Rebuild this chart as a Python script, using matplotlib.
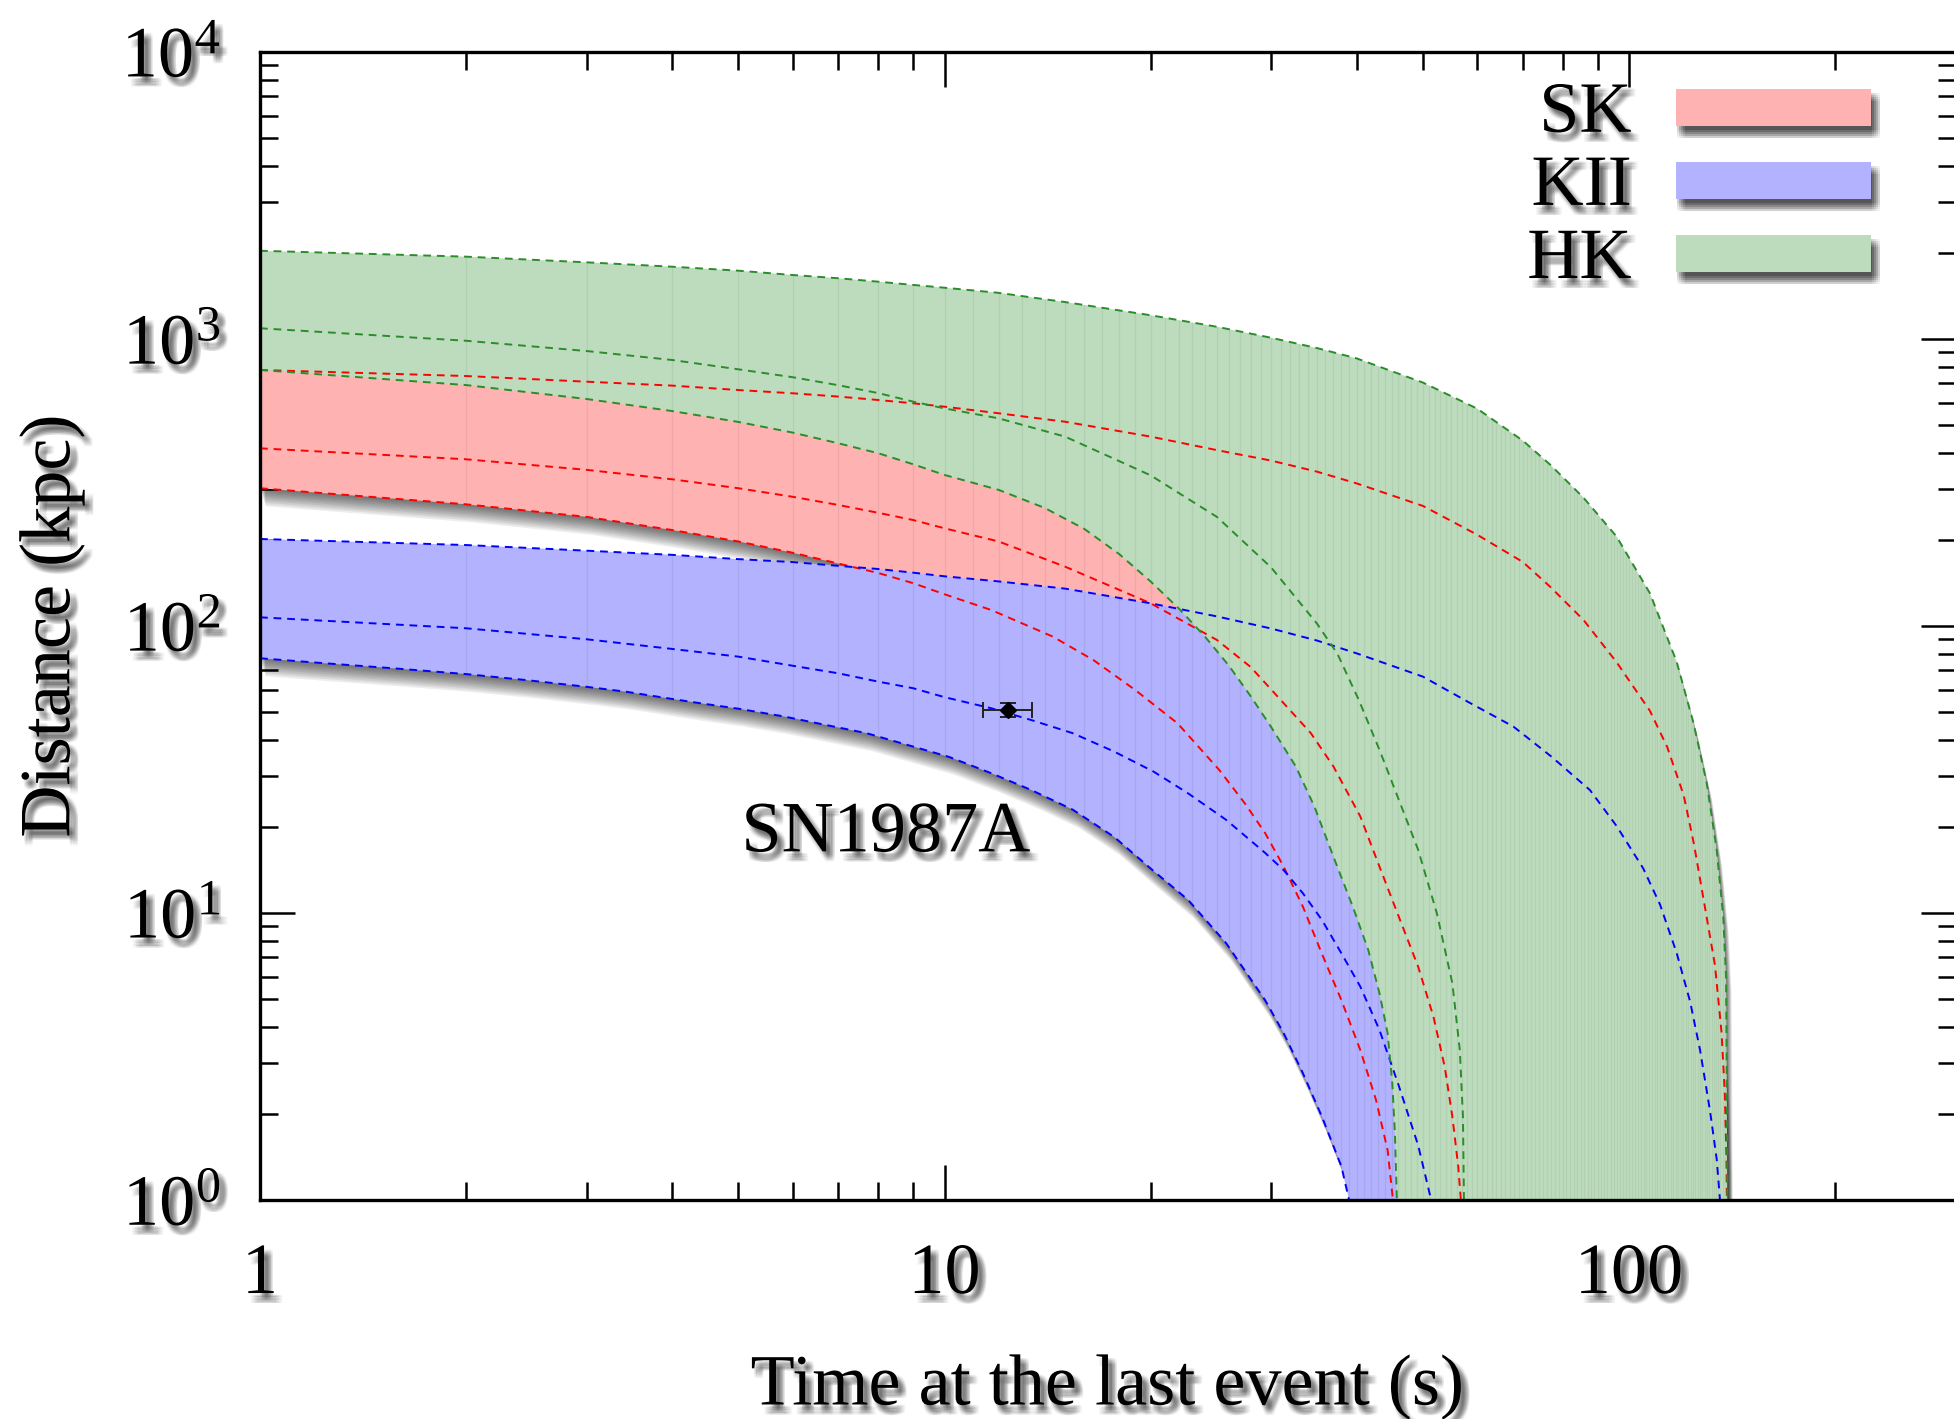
import numpy as np
import matplotlib
matplotlib.use("Agg")
import matplotlib.pyplot as plt
import matplotlib.patheffects as pe
from matplotlib.patches import Rectangle
from matplotlib.ticker import LogLocator, NullFormatter
from matplotlib.transforms import ScaledTranslation

plt.rcParams["font.family"] = ["Liberation Serif", "DejaVu Serif"]
plt.rcParams["mathtext.fontset"] = "custom"
plt.rcParams["mathtext.rm"] = "Liberation Serif"
plt.rcParams["mathtext.it"] = "Liberation Serif:italic"

# time at the last event (s) / distance (kpc)
hk_up_t = [1, 2, 3, 4, 5, 6, 7, 8, 9, 10, 12, 15, 20, 25, 30, 35, 40, 50, 60, 70,
           76.7, 85.8, 95.9, 107.3, 117.4, 124.2, 129.9, 134.3, 137.3, 138.6, 138.9, 139.2]
hk_up_d = [2030, 1936, 1850, 1786, 1730, 1671, 1628, 1584, 1543, 1509, 1448, 1345, 1210, 1103,
           1010, 930, 856, 705, 572, 442, 365, 280, 205, 130, 75, 46, 28.3, 16.6, 9.7, 6.0, 2.9, 1.0]
hk_mid_t = [1, 2, 3, 4, 5, 6, 7, 8, 9, 10, 12, 15, 20, 25, 30, 35, 37.5, 40.3, 43.2, 46.1,
            49.2, 52.4, 55.2, 56.6, 57.2, 57.4]
hk_mid_d = [1090, 986, 908, 845, 784, 736, 690, 648, 605, 573, 529, 457, 335, 240, 160, 102, 80,
            55.2, 37, 24.8, 16.6, 9.97, 5.69, 3.33, 1.95, 1.0]
hk_low_t = [1, 2, 3, 4, 5, 6, 7, 8, 9, 10, 12, 14, 16, 18, 20, 22, 24, 26, 28, 30, 32.6, 34.7,
            37, 39.5, 41.6, 43.2, 44.4, 45.1, 45.5, 45.8]
hk_low_d = [780, 691, 618, 561, 514, 472, 433, 400, 366, 336, 298, 258, 218, 178, 143, 115, 92,
            73, 57, 44.5, 32.4, 23.5, 15.7, 10.5, 7.43, 5.25, 3.81, 2.55, 1.71, 1.0]

sk_up_t = [1, 2, 3, 4, 5, 6, 7, 8, 9, 10, 12, 15, 20, 25, 30, 35, 40, 50, 60, 70, 76.7, 85.8,
           95.9, 107.3, 113.7, 120.2, 124.4, 128.9, 133.5, 136.5, 138.0, 138.8, 139.0]
sk_up_d = [780, 743, 710, 688, 664, 647, 630, 613, 597, 581, 551, 515, 457, 410, 377, 345, 314,
           262, 208, 167, 137, 105, 74.8, 50.6, 37.9, 25.7, 17.4, 10.7, 6.6, 3.85, 2.37, 1.39, 1.0]
sk_mid_t = [1, 2, 3, 4, 5, 6, 7, 8, 9, 10, 12, 15, 20, 25, 28, 31.3, 34.3, 37, 40.5, 43.2, 46.1,
            49.2, 51.8, 53.8, 55.2, 56.3, 56.8]
sk_mid_d = [416, 381, 350, 324.5, 302, 282, 264, 248, 234, 219, 197, 161, 120, 89.4, 72, 53.8,
            42.3, 32.4, 21.7, 14.5, 9.7, 6.5, 4.35, 2.91, 1.95, 1.31, 1.0]
sk_low_t = [1, 2, 3, 4, 5, 6, 7, 8, 9, 10, 11.7, 14.4, 16.5, 19, 21.9, 25.2, 27.5, 29.4, 31.3,
            33.4, 35.6, 38, 40.5, 42.7, 44.4, 45.2]
sk_low_d = [302, 265.5, 240, 216, 197, 180, 165, 153, 141, 129, 113.7, 91.8, 76.1, 59.8, 45.8,
            31.5, 24, 19.0, 14.5, 10.5, 7.2, 4.97, 3.33, 2.23, 1.49, 1.0]

kii_up_t = [1, 2, 3, 4, 5, 6, 7, 8, 9, 10, 12, 15, 20, 25, 30, 35, 40, 50, 58.1, 67.8, 77.1,
            87.7, 95.9, 104.9, 111, 117.4, 122.8, 127, 131.3, 134.3, 135.8]
kii_up_d = [201, 191.5, 183, 177, 171, 167, 162, 158, 153.4, 149, 143, 135, 120, 108, 98, 89,
            80.3, 66.6, 54.5, 44.6, 35, 26.8, 20.1, 14.3, 10.7, 7.25, 4.92, 3.33, 2.05, 1.39, 1.0]
kii_mid_t = [1, 2, 3, 4, 5, 6, 7, 8, 9, 10, 11.7, 13.4, 15.4, 17.7, 20.2, 22.7, 25.8, 29.4,
             31.3, 33.4, 35.6, 38, 40.5, 43.2, 46.1, 49.2, 51.4]
kii_mid_d = [107.2, 98.2, 89.9, 83.2, 78.2, 72.7, 68.4, 64, 60.7, 56.5, 51.7, 47, 42.3, 36.5,
             31.1, 26.1, 21.1, 16.2, 14.1, 11.7, 9.45, 7.24, 5.54, 3.91, 2.5, 1.55, 1.0]
kii_low_t = [1, 1.25, 1.57, 2, 2.45, 3, 3.43, 4, 4.4, 5, 5.8, 7.7, 10.15, 11.7, 13.4, 15.4, 17.7,
             20, 22.7, 25.8, 29.4, 31.3, 33.4, 35.6, 38, 39]
kii_low_d = [77.2, 74.1, 71.2, 68.0, 64.8, 61.4, 59.0, 55.7, 53.8, 51.5, 48.5, 42.3, 35.0, 30.7,
             26.8, 22.9, 18.4, 14.3, 11.1, 7.84, 4.97, 3.81, 2.76, 1.95, 1.31, 1.0]

# SN1987A (Kamiokande-II)
sn_t, sn_terr = 12.4, 1.0
sn_d, sn_derr = 51.0, 3.0

detectors = ["SK", "KII", "HK"]
fill_colors = ["#FFB2B2", "#B2B2FF", "#BDDCBD"]
line_colors = ["#FF0000", "#0000FF", "#2A8C2A"]
bands = [
    ((sk_up_t, sk_up_d), (sk_mid_t, sk_mid_d), (sk_low_t, sk_low_d)),
    ((kii_up_t, kii_up_d), (kii_mid_t, kii_mid_d), (kii_low_t, kii_low_d)),
    ((hk_up_t, hk_up_d), (hk_mid_t, hk_mid_d), (hk_low_t, hk_low_d)),
]


def soft_shadow(dx=4.0, dy=-5.0, spread=1.1, alpha=0.03, n=5):
    # cheap blurred drop shadow: a grid of faint offset copies
    effects = []
    for i in range(n):
        for j in range(n):
            ox = dx + (i - (n - 1) / 2) * spread
            oy = dy + (j - (n - 1) / 2) * spread
            effects.append(pe.SimplePatchShadow(offset=(ox, oy), shadow_rgbFace="black", alpha=alpha))
    effects.append(pe.Normal())
    return effects


fig = plt.figure(figsize=(19.54, 14.19), dpi=100)
ax = fig.add_axes([260 / 1954, 219 / 1419, 1695.6 / 1954, 1148 / 1419])
ax.set_xscale("log")
ax.set_yscale("log")
ax.set_xlim(1, 300)
ax.set_ylim(1, 1e4)
ax.set_axisbelow(True)

polys = []
for (up, mid, low) in bands:
    px = np.concatenate([up[0], low[0][::-1]])
    py = np.concatenate([up[1], low[1][::-1]])
    polys.append((px, py))

# shadows cast by the bands onto the white background
for px, py in polys:
    for k in range(1, 11):
        off = ScaledTranslation(0.4 * k / 72, -1.3 * k / 72, fig.dpi_scale_trans)
        ax.fill(px, py, color="black", alpha=0.07, lw=0, transform=ax.transData + off, zorder=1.0)

seconds = np.arange(2, 140)
for i, ((px, py), fc) in enumerate(zip(polys, fill_colors)):
    poly = ax.fill(px, py, color=fc, lw=0, zorder=1.1 + 0.1 * i)[0]
    stripes = ax.vlines(seconds, 0.5, 2e4, color="black", alpha=0.06, lw=0.9, zorder=1.15 + 0.1 * i)
    stripes.set_clip_path(poly)

for (up, mid, low), lc in zip(bands, line_colors):
    for t, d in (up, mid, low):
        ax.plot(t, d, color=lc, lw=1.4, linestyle=(0, (4, 3)), zorder=3)

ax.errorbar(sn_t, sn_d, xerr=sn_terr, yerr=sn_derr, fmt="D", color="black", ms=8.5,
            ecolor="#222222", elinewidth=1.4, capsize=6, capthick=1.4, zorder=6)
ax.text(5.05, 16.4, "SN1987A", fontsize=52, ha="left", va="baseline", zorder=7,
        path_effects=soft_shadow())

# ticks
ax.set_xticks([1, 10, 100], labels=["1", "10", "100"])
ax.xaxis.set_minor_locator(LogLocator(base=10, subs=np.arange(2, 10)))
ax.xaxis.set_minor_formatter(NullFormatter())
ax.set_yticks([1, 10, 100, 1000, 10000],
              labels=[r"$10^{0}$", r"$10^{1}$", r"$10^{2}$", r"$10^{3}$", r"$10^{4}$"])
ax.yaxis.set_minor_locator(LogLocator(base=10, subs=np.arange(2, 10)))
ax.yaxis.set_minor_formatter(NullFormatter())
ax.tick_params(which="both", direction="in", top=True, right=True, width=1.8, colors="black")
ax.tick_params(which="major", length=25, labelsize=52)
ax.tick_params(which="minor", length=13)
ax.tick_params(axis="x", which="major", pad=31)
ax.tick_params(axis="y", which="major", pad=28)
for lbl in ax.get_xticklabels() + ax.get_yticklabels():
    lbl.set_path_effects(soft_shadow())

for sp in ax.spines.values():
    sp.set_linewidth(2.4)
    sp.set_zorder(5)
    sp.set_path_effects(soft_shadow(dx=2, dy=-3, alpha=0.025))

ax.set_xlabel("Time at the last event (s)", fontsize=52, va="center",
              path_effects=soft_shadow())
ax.xaxis.set_label_coords(0.5, -0.163)
ax.set_ylabel("Distance (kpc)", fontsize=52, va="center", ha="center",
              path_effects=soft_shadow())
ax.yaxis.set_label_coords(-0.1227, 0.5)

# legend: label on the left, wide colour bar on the right
for i, (name, fc) in enumerate(zip(detectors, fill_colors)):
    yc = 0.952 - i * 0.0637
    ax.add_patch(Rectangle((0.835, yc - 0.0161), 0.115, 0.0322, transform=ax.transAxes,
                           facecolor=fc, edgecolor="none", zorder=8, clip_on=False,
                           path_effects=soft_shadow(dx=4, dy=-6, spread=1.4, alpha=0.04)))
    ax.text(0.809, yc - 0.0215, name, transform=ax.transAxes, fontsize=52, ha="right",
            va="baseline", zorder=8, path_effects=soft_shadow())

fig.savefig("out.png", dpi=100, facecolor="white")
